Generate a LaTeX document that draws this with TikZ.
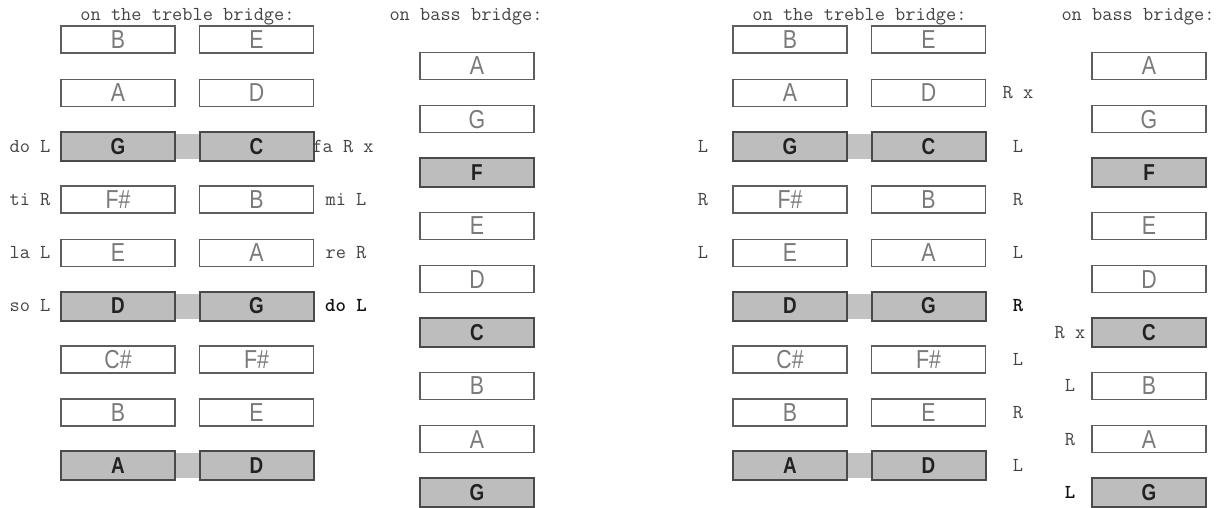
\documentclass[tikz,border=0pt]{standalone}
\usepackage{fontspec}
\setmainfont{Liberation Sans}
\usetikzlibrary{calc}
\definecolor{boxgray}{HTML}{BDBDBD}
\definecolor{bandgray}{HTML}{C2C2C2}
\definecolor{edgedark}{HTML}{4A4A4A}
\definecolor{edgelight}{HTML}{5E5E5E}
\definecolor{notegray}{HTML}{7A7A7A}
\definecolor{notedark}{HTML}{222222}
\definecolor{lblgray}{HTML}{444444}
\definecolor{lbldark}{HTML}{111111}
\newcommand{\sxn}[1]{\scalebox{0.82}[1]{#1}}
\tikzset{
  wbox/.style={draw=edgelight, line width=1.4pt, fill=white, minimum width=114pt, minimum height=27pt, inner sep=0pt, text=notegray, font=\fontsize{26}{26}\selectfont},
  gbox/.style={draw=edgedark, line width=2pt, fill=boxgray, minimum width=114pt, minimum height=29pt, inner sep=0pt, text=notedark, font=\bfseries\fontsize{23}{23}\selectfont},
  lbl/.style={font=\ttfamily\fontsize{19.8}{20}\selectfont, text=lblgray, inner sep=0pt},
  blbl/.style={font=\ttfamily\bfseries\fontsize{19.8}{20}\selectfont, text=lbldark, inner sep=0pt},
  ttl/.style={font=\ttfamily\fontsize{19.8}{20}\selectfont, text=lblgray, inner sep=0pt}
}
\begin{document}
\begin{tikzpicture}[x=1pt,y=-1pt]
\useasboundingbox[fill=white] (0,0) rectangle (1219,508);
% titles
\node[ttl] (at) at (187.5,17) {on the treble bridge:};
\node[ttl] (ab) at (466,17) {on bass bridge:};
\node[ttl] (bt) at (859.5,17) {on the treble bridge:};
\node[ttl] (bb) at (1138,17) {on bass bridge:};
% treble bridges
\foreach \p/\dx in {a/0,b/672}{
  \foreach \k in {3,6,9}{
    \coordinate (\p c\k l) at ({175+\dx},{39.5+53.3*(\k-1)-12.5});
    \coordinate (\p c\k r) at ({200+\dx},{39.5+53.3*(\k-1)+12.5});
    \fill[bandgray] (\p c\k l) rectangle (\p c\k r);
  }
  \foreach \k/\l/\r/\s in {1/B/E/wbox,2/A/D/wbox,3/G/C/gbox,4/F\#/B/wbox,5/E/A/wbox,6/D/G/gbox,7/C\#/F\#/wbox,8/B/E/wbox,9/A/D/gbox}{
    \node[\s] (\p t\k l) at ({118+\dx},{39.5+53.3*(\k-1)}) {\sxn{\l}};
    \node[\s] (\p t\k r) at ({256.5+\dx},{39.5+53.3*(\k-1)}) {\sxn{\r}};
  }
  \foreach \k/\l/\s in {1/A/wbox,2/G/wbox,3/F/gbox,4/E/wbox,5/D/wbox,6/C/gbox,7/B/wbox,8/A/wbox,9/G/gbox}{
    \node[\s] (\p b\k) at ({477+\dx},{66+53.3*(\k-1)}) {\sxn{\l}};
  }
}
% left panel labels
\node[lbl] (al3) at (30,146.1) {do L};
\node[lbl] (al4) at (30,199.4) {ti R};
\node[lbl] (al5) at (30,252.7) {la L};
\node[lbl] (al6) at (30,306) {so L};
\node[lbl] (ar3) at (343,146.1) {fa R x};
\node[lbl] (ar4) at (346,199.4) {mi L};
\node[lbl] (ar5) at (346,252.7) {re R};
\node[blbl] (ar6) at (346,306) {do L};
% right panel labels
\node[lbl] (bl3) at (703,146.1) {L};
\node[lbl] (bl4) at (703,199.4) {R};
\node[lbl] (bl5) at (703,252.7) {L};
\node[lbl] (br2) at (1018,92.8) {R x};
\node[lbl] (br3) at (1018,146.1) {L};
\node[lbl] (br4) at (1018,199.4) {R};
\node[lbl] (br5) at (1018,252.7) {L};
\node[blbl] (br6) at (1018,306) {R};
\node[lbl] (br7) at (1018,359.3) {L};
\node[lbl] (br8) at (1018,412.6) {R};
\node[lbl] (br9) at (1018,465.9) {L};
\node[lbl] (bb6) at (1070,332.5) {R x};
\node[lbl] (bb7) at (1070,385.8) {L};
\node[lbl] (bb8) at (1070,439.1) {R};
\node[blbl] (bb9) at (1070,492.4) {L};
\end{tikzpicture}
\end{document}
